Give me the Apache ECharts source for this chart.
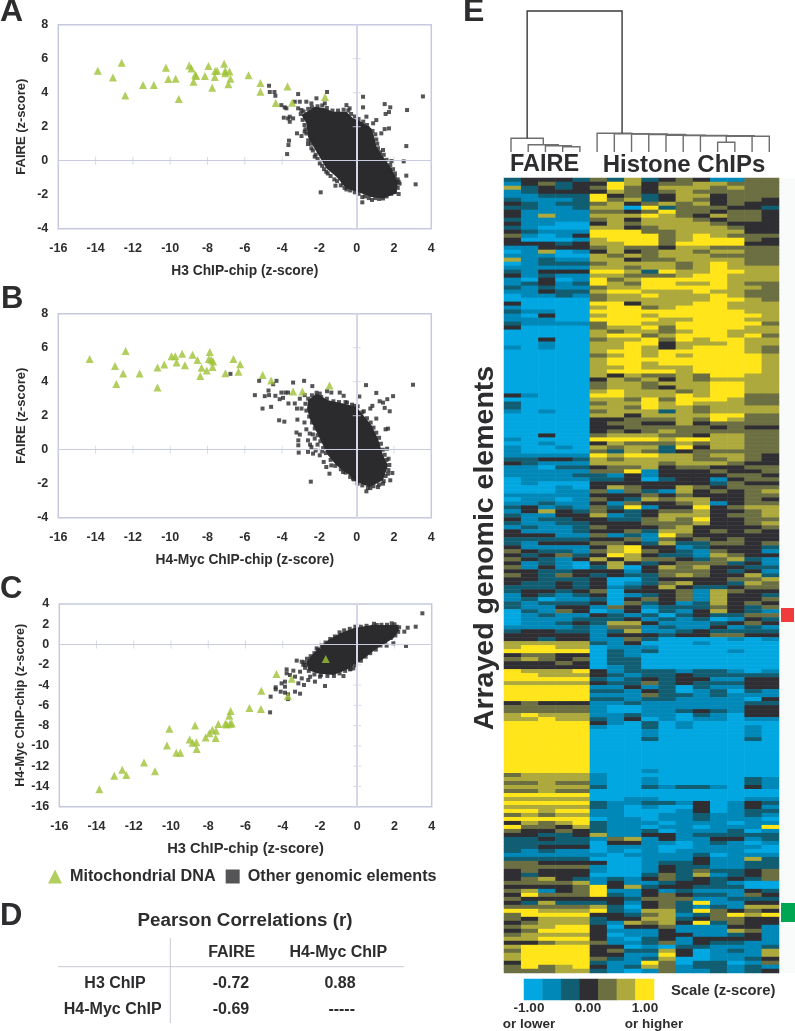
<!DOCTYPE html>
<html><head><meta charset="utf-8">
<style>html,body{margin:0;padding:0;background:#fff}#c{width:795px;height:1031px}</style>
<script src="https://cdn.jsdelivr.net/npm/echarts@6/dist/echarts.min.js"></script>
</head><body><div id="c"></div>
<script>
const mitoA=[[-13.88,5.29],[-13.07,4.9],[-12.6,5.76],[-12.41,3.84],[-11.46,4.45],[-10.88,4.45],[-10.23,5.47],[-10.1,4.8],[-9.71,4.82],[-9.54,3.63],[-8.98,5.6],[-8.86,5.43],[-8.66,5.06],[-8.61,4.98],[-8.75,4.65],[-8.14,4.98],[-7.95,5.57],[-7.75,4.29],[-7.61,4.92],[-7.59,5.27],[-7.48,5.29],[-7.11,5.71],[-7.05,5.27],[-7.05,5.14],[-6.82,5.25],[-6.77,4.82],[-6.88,4.49],[-5.8,5.02],[-5.16,4.57],[-5.16,4.06],[-4.34,3.39],[-3.71,4.37],[-3.46,3.41],[-1.7,3.75]];
const mitoB=[[-14.32,5.33],[-12.96,4.92],[-12.89,3.87],[-12.52,4.48],[-12.39,5.8],[-11.64,4.48],[-10.68,4.84],[-10.68,3.66],[-10.32,5.01],[-9.93,5.5],[-9.73,5.49],[-9.66,5.13],[-9.36,5.64],[-9.21,4.97],[-8.8,5.58],[-8.54,5.27],[-8.39,4.33],[-8.32,4.82],[-8.04,4.66],[-7.93,5.33],[-7.88,5.74],[-7.8,5.29],[-7.7,5.19],[-7.73,4.86],[-7.04,4.5],[-6.61,5.33],[-6.34,4.58],[-6.25,5.03],[-5.04,4.4],[-4.59,4.07],[-3.41,3.42],[-2.91,3.42],[-1.46,3.78]];
const mitoC=[[-13.85,-14.29],[-13.05,-12.94],[-12.62,-12.35],[-12.4,-12.88],[-11.45,-11.63],[-10.86,-12.51],[-10.22,-9.95],[-10.09,-8.3],[-9.72,-10.67],[-9.5,-10.67],[-9,-9.36],[-8.84,-9.68],[-8.71,-8],[-8.64,-9.65],[-8.62,-10.31],[-8.14,-9.16],[-7.94,-8.76],[-7.78,-8.4],[-7.58,-8.5],[-7.6,-9.22],[-7.46,-7.84],[-7.08,-7.81],[-7.01,-7.88],[-6.87,-7.02],[-6.8,-6.56],[-6.83,-7.81],[-6.74,-7.78],[-5.79,-6.26],[-5.17,-6.36],[-5.15,-4.55],[-4.34,-2.91],[-3.72,-5.08],[-3.52,-3.37],[-1.69,-1.43]];
const coreA=[[-2.96,2.69],[-2.25,3.18],[-1.71,3.08],[-1.27,2.88],[-0.55,2.88],[-0.2,2.49],[0.25,2.29],[0.79,1.9],[0.96,1.31],[1.05,0.82],[1.41,0.24],[1.86,-0.45],[2.21,-1.33],[2.13,-1.92],[1.41,-2.22],[0.7,-2.12],[0.25,-1.92],[-0.55,-1.63],[-1.09,-0.94],[-1.63,-0.45],[-2.16,0.53],[-2.61,1.41],[-2.7,2.2]];
const coreB=[[-2.61,2.91],[-2.16,3.3],[-1.54,2.91],[-0.73,2.72],[-0.02,2.52],[0.43,1.93],[0.79,1.44],[1.14,0.65],[1.41,-0.33],[1.68,-0.92],[1.41,-1.8],[0.7,-2.2],[-0.02,-1.9],[-0.38,-1.51],[-1.09,-0.92],[-1.54,-0.33],[-1.89,0.46],[-2.16,1.05],[-2.52,1.83],[-2.66,2.42]];
const coreC=[[-2.75,-1.69],[-2.09,-0.38],[-1.55,0.45],[-0.92,1.11],[-0.21,1.6],[0.78,1.93],[2.12,1.93],[2.25,1.43],[1.94,0.61],[1.05,-0.38],[0.24,-1.53],[-0.39,-2.35],[-1.28,-3.01],[-2.18,-2.84],[-2.63,-2.51]];
const otherA=[[-4.7,4.41],[-4.66,4.04],[-4.41,4.04],[-4.36,3.82],[-4.04,3.27],[-3.86,3.14],[-3.77,3.08],[-3.91,2.53],[-3.68,2.49],[-3.59,2.59],[-3.14,3.92],[-3.32,3.47],[-3.05,3.47],[-2.7,3.47],[-2.43,3.37],[-2.16,3.67],[-3.14,3.08],[-2.96,2.98],[-3.59,2.29],[-3.41,2.49],[-3.2,1.61],[-2.96,1.45],[-2.61,0.98],[-2.43,1.22],[-2.79,1.71],[-3.63,1.18],[-3.66,0.92],[-3.73,0.39],[-1.59,4.04],[-1.71,3.37],[0.34,3.76],[0.34,3.14],[-0.55,3.27],[-0.38,3.08],[0.52,2.59],[0.61,1.9],[1.05,2.39],[0.88,2.2],[1.5,3.33],[1.8,3.14],[1.55,2.75],[1.73,2.86],[1.5,1.86],[1.73,1.9],[1.32,1.61],[2.7,2.98],[3.55,3.78],[2.66,0.86],[2.52,-0.04],[2.66,-0.88],[3.16,-1.39],[2.25,-1.96],[1.86,-0.02],[2.04,-0.94],[2.13,-1.24],[-1.93,-1.86],[-1.14,-1.47],[-0.55,-1.69],[0.3,-2.14],[0.3,-2.45],[0.82,-2.31],[1.41,-2.22],[1.95,-1.73],[-0.73,-1.33],[-1.63,-0.65],[-1.98,-0.16],[-2.25,0.24],[-2.43,0.73],[1.14,0.73],[1.41,0.63],[1.77,-0.55],[2.25,-1.24]];
const edgeA=[[-3.0,2.75],[-2.85,2.9],[-2.75,2.6],[-2.6,3.05],[-2.4,3.15],[-2.1,3.2],[-2.9,2.4],[-2.8,2.1],[-2.75,1.85],[-2.7,1.6],[-2.6,1.2],[-2.45,1.0],[-2.35,0.6],[-2.2,0.35],[-2.1,0.1],[-1.85,-0.3],[-1.75,-0.5],[-1.55,-0.75],[-1.4,-0.9],[-1.2,-1.1],[-1.05,-1.2],[-0.85,-1.45],[-0.65,-1.6],[-0.35,-1.75],[-0.1,-1.85],[0.1,-1.95],[0.45,-2.1],[0.65,-2.2],[1.0,-2.2],[1.2,-2.25],[1.6,-2.1],[1.85,-1.95],[2.05,-1.85],[2.2,-1.6],[2.3,-1.35],[2.2,-1.1],[2.05,-0.75],[1.95,-0.5],[1.8,-0.25],[1.6,0.05],[1.45,0.35],[1.25,0.5],[1.1,1.0],[1.05,1.25],[1.0,1.55],[0.85,1.75],[0.55,2.1],[0.35,2.3],[0.1,2.45],[-0.1,2.6],[-0.3,2.75],[-0.45,2.95],[-0.7,3.0],[-1.0,2.95],[-1.3,2.95],[-1.6,3.1],[-1.85,3.25]];
const otherB=[[-6.77,4.46],[-5.23,4.05],[-5.46,3.21],[-4.73,3.48],[-4.7,3.21],[-4.93,3.15],[-5.05,2.42],[-4.59,2.52],[-4.48,3.85],[-4.3,4.05],[-4.36,3.17],[-4.04,3.36],[-3.82,3.36],[-3.68,3.36],[-4.13,2.97],[-3.95,3.05],[-3.41,3.95],[-2.82,4.05],[-3.66,2.72],[-3.32,2.72],[-3.2,2.42],[-2.38,3.74],[-4.16,1.73],[-3.88,1.65],[-3.18,1.77],[-3.23,1.01],[-3.05,0.89],[-3.13,0.55],[-3.13,0.26],[-3.11,-0.17],[-2.52,0.95],[-2.61,0.55],[-2.25,0.65],[-2.61,-0.13],[-2.34,-0.23],[-1.98,-0.33],[-2.43,0.16],[-2.46,-1.88],[-2.96,2.42],[-3.05,3],[-2.79,3.21],[-1.98,3.3],[-1.59,3.44],[-1.36,3.36],[-0.91,3.36],[-0.7,3.17],[0.14,3.13],[0.5,3.8],[1.05,3.34],[-0.52,2.77],[-0.11,2.58],[0.38,2.26],[0.73,2.42],[0.84,2.58],[1.05,1.83],[1.23,2.85],[1.41,2.77],[1.64,2.97],[1.95,3.15],[1.5,2.46],[1.77,2.26],[1.55,1.2],[1.68,1.24],[3.02,3.82],[1.63,0.06],[1.71,-0.53],[1.91,-1.37],[1.68,-1.41],[1.8,-1.8],[1.41,-2],[1.14,-2.2],[0.73,-2.26],[0.52,-2.45],[-1.46,-1.41],[-1.36,-0.92],[-1.63,-1.02],[-1.77,-0.72],[-0.73,-1.31],[-0.2,-1.7]];
const edgeB=[[-2.75,2.7],[-2.6,3.0],[-2.4,3.2],[-2.15,3.35],[-1.9,3.1],[-1.6,3.0],[-1.25,2.85],[-0.95,2.8],[-0.6,2.8],[-0.25,2.65],[0.05,2.55],[0.3,2.2],[0.55,1.85],[0.75,1.6],[0.9,1.3],[1.05,1.0],[1.2,0.7],[1.3,0.35],[1.4,0.0],[1.5,-0.3],[1.6,-0.6],[1.75,-0.9],[1.7,-1.2],[1.55,-1.55],[1.45,-1.85],[1.2,-2.05],[0.9,-2.15],[0.6,-2.25],[0.3,-2.1],[0.05,-2.0],[-0.15,-1.75],[-0.35,-1.6],[-0.6,-1.35],[-0.85,-1.15],[-1.15,-0.95],[-1.4,-0.6],[-1.65,-0.2],[-1.8,0.1],[-1.95,0.5],[-2.1,0.85],[-2.25,1.25],[-2.4,1.6],[-2.55,1.95],[-2.7,2.3],[-2.8,1.6],[-2.7,1.2],[-2.35,0.9],[-2.5,0.3],[-2.2,-0.05],[-2.1,0.3],[-1.85,-0.1]];
const otherC=[[3.5,3.08],[3.14,1.76],[2.53,1.27],[2.71,1.66],[1.94,0.12],[2.62,-0.14],[1.58,-0.11],[2.12,1.76],[1.85,2.09],[1.05,1.93],[0.87,1.76],[0.51,-0.05],[-0.21,-2.35],[-0.74,-3.11],[-1.73,-4.09],[-2.18,-0.38],[-3.25,-1.59],[-2.98,-1.69],[-2.8,-2.02],[-3.79,-2.45],[-3.43,-2.58],[-3.79,-2.84],[-3.61,-3.01],[-3.88,-3.66],[-4.06,-3.83],[-3.88,-4.16],[-4.38,-4.22],[-4.38,-4.42],[-4.11,-4.65],[-3.88,-4.75],[-4.65,-5.14],[-3.72,-4.91],[-3.72,-5.38],[-4.68,-6.69],[-3.34,-4.65],[-3.07,-4.85],[-2.86,-3.99],[-3.16,-3.83],[-2.98,-3.34],[-3.34,-3.17],[-3.07,-2.68],[-2.63,-3.5],[-2.27,-3.66],[-2.53,-3.17],[-2,-3.17],[-0.39,-2.45],[-0.92,-2.51]];
const edgeC=[[-2.85,-1.75],[-2.7,-1.4],[-2.5,-1.15],[-2.3,-0.85],[-2.1,-0.5],[-1.9,-0.1],[-1.7,0.2],[-1.45,0.55],[-1.2,0.8],[-0.95,1.2],[-0.7,1.4],[-0.4,1.55],[-0.1,1.75],[0.2,1.75],[0.5,1.85],[0.9,2.05],[1.3,1.95],[1.6,1.95],[2.0,2.0],[2.25,1.7],[2.2,1.25],[2.05,0.9],[1.8,0.65],[1.5,0.3],[1.25,-0.1],[1.0,-0.5],[0.7,-0.85],[0.45,-1.2],[0.2,-1.6],[-0.1,-2.05],[-0.35,-2.4],[-0.65,-2.6],[-0.95,-2.85],[-1.25,-3.1],[-1.6,-3.1],[-1.95,-3.0],[-2.3,-2.95],[-2.6,-2.6],[-2.8,-2.3],[-2.9,-2.0]];
const xTicks=[-16,-14,-12,-10,-8,-6,-4,-2,2,4];
const yTicksFaire=[-4,-2,2,4,6,8];
const yTicksMyc=[-16,-14,-12,-10,-8,-6,-4,-2,2,4];

const heatRows=[
"23332 42523 431144","13423 36534 455444","52323 46435 554544","12333 35434 544444","11222 63423 553444","21112 64523 543443","32122 45345 453433","22112 55062 444332","31111 44346 443443","31511 55565 435443",
"21111 45355 543443","31100 35455 554333","21000 55345 555433","32111 66644 555533","41013 66664 565444","30001 56664 566643","33323 55664 666633","11333 45443 554444","01501 35345 545544","11100 54545 554444",
"51211 55344 555544","01222 45555 456544","11111 55455 456555","21333 66526 556655","31211 55444 566555","10301 64566 666555","12312 65466 556544","21211 45566 666554","11322 56655 565544","01121 45565 556544",
"00000 45555 556654","30000 66355 566555","10000 56645 666555","21100 66666 666655","10300 56656 666665","11100 66665 566655","21111 46655 666664","30000 45564 666655","00000 54554 566555","00000 56645 666564",
"00300 45564 656655","00100 55663 555655","10100 55653 566654","00000 56656 666654","00000 45656 566665","00000 56666 666665","00000 56656 666665","00000 55655 566665","00000 56666 566665","00000 53544 546655",
"00000 35453 545555","00000 45545 556655","00000 45543 556655","00000 56555 456655","31000 66555 656644","00000 55464 666544","20000 45565 655544","20000 55465 545555","10100 45552 545555","00000 55355 556644",
"00000 33444 546544","00000 34433 534444","00000 33444 443433","00000 34345 444444","00300 45554 435544","10000 66665 665544","00100 35444 545544","10010 54552 635544","10000 42542 344444","11111 65665 545543",
"22332 54555 544543","32111 55554 555433","11022 34453 443344","11111 44613 334334","11112 21313 333443","01111 22302 331344","01000 33333 332433","00010 35433 543444","00011 41421 534345","11111 33343 433344",
"01101 43254 553343","11211 31433 451344","23121 42613 363455","13532 43234 453345","21133 51235 553445","31223 32245 463344","21122 33344 453345","12112 43334 533334","31112 33425 534343","33311 41216 433333",
"22222 33414 343433","21333 44325 224434","31111 35633 123332","43221 45643 214331","32342 36532 215433","43213 53544 324521","31210 35323 444231","41310 25035 453322","33223 33134 443231","43243 23224 543352",
"33222 30023 333445","32232 30124 533254","22232 31235 322344","23323 40333 415433","13212 30123 415332","12011 20343 415334","21222 30423 125343","21133 14312 224324","02143 01302 135321","01211 32120 232244",
"01112 22312 120132","01123 25531 112343","11112 14412 113121","23322 12511 232222","33333 13332 334433","33233 11420 000101","55555 21300 010000","56655 01110 000000","66666 02120 000100","34433 02100 000000",
"45434 02200 000000","33343 02200 000000","33333 01200 000000","65556 31222 122101","66555 32122 322222","66666 21232 331133","55555 32242 322233","66666 11312 021133","66666 22132 012021","66666 11142 212111",
"66666 22122 111103","34333 11211 111122","44444 10011 111133","44444 10011 232133","56555 11211 021033","55655 21301 011011","66666 31020 100000","66666 10020 100010","66666 00010 000010","66666 00010 000010",
"66666 00020 000020","66666 00000 000000","66666 00000 000000","66666 00000 000000","66666 00000 000000","66666 00000 000000","66666 00000 000000","66666 00000 000000","66666 00010 000000","45555 10000 000000",
"55555 10010 000021","44544 10010 000021","55555 20021 221031","44544 00000 000000","66666 00000 000000","55555 00110 000011","66666 21122 130132","55555 21010 030131","66566 11000 130122","45455 11001 121121",
"66666 01101 121110","35456 21110 111011","64435 21101 101116","43343 21120 111201","33223 51133 122222","22322 14513 113312","22222 03311 012101","22333 01110 011110","21211 01010 111100","11111 10111 120111",
"22222 00011 131152","44333 30012 231122","44444 10013 221122","34333 10013 242234","32333 00024 251234","34532 12134 232324","44445 13112 332100","33334 63523 322200","45134 61131 211132","36444 62134 322143",
"43333 33244 411222","32522 23134 261133","44444 52034 212155","66555 62155 264343","46666 33245 124656","43555 23355 234433","34555 21545 362433","45566 30334 111331","34666 31113 111541","45555 30113 311231",
"55666 31023 133331","33455 41124 132211","56666 33010 221112","46666 34225 301215","56666 33116 301115","56666 42125 001123","36666 21164 022014","46456 31254 122121","44455 21014 112123"];
const heatColors=['#00a7e1','#0088b8','#115e73','#2e2e33','#6b6f42','#ada93d','#ffe51a'];
const scaleLevels=[0,1,2,3,4,5,6];
const dendroMerges=[[3,4,5.3],[2,16,6.3],[1,17,7.3],[0,18,13.7],[12,13,9.7],[20,14,15.7],[21,15,15.8],[11,22,16.2],[10,23,16.5],[9,24,16.8],[8,25,17.5],[7,26,18],[6,27,18.3],[5,28,18.7,6.45],[19,29,141]];
const tableCols=['FAIRE','H4-Myc ChIP'];
const tableRows=[['H3 ChIP','-0.72','0.88'],['H4-Myc ChIP','-0.69','-----']];

const FONT='"Liberation Sans",Arial,sans-serif', INK='#2d2d2f', RULE='#c6c8df', BLACK='#2b2b2e', GREEN='#9fc236';
const grids=[],xAxes=[],yAxes=[],series=[];
function panel(l,t,w,h,ymin,ymax,xName,yName,xSize,ySize,yTicks,core,other,mito){
  const i=grids.length;
  grids.push({left:l,top:t,width:w,height:h,show:true,borderColor:RULE,borderWidth:1.5,backgroundColor:'#fff'});
  xAxes.push({gridIndex:i,type:'value',min:-16,max:4,interval:2,name:xName,nameLocation:'middle',nameGap:35,
    nameTextStyle:{fontFamily:FONT,fontWeight:'bold',fontSize:xSize,color:INK},
    axisLine:{show:false},axisTick:{show:false},splitLine:{show:false},
    axisLabel:{fontFamily:FONT,fontWeight:'bold',fontSize:12.5,color:INK,margin:13}});
  yAxes.push({gridIndex:i,type:'value',min:ymin,max:ymax,interval:2,name:yName,nameLocation:'middle',nameGap:30,
    nameTextStyle:{fontFamily:FONT,fontWeight:'bold',fontSize:ySize,color:INK},
    axisLine:{show:false},axisTick:{show:false},splitLine:{show:false},
    axisLabel:{fontFamily:FONT,fontWeight:'bold',fontSize:12.5,color:INK,margin:10}});
  const base={xAxisIndex:i,yAxisIndex:i,silent:true,animation:false};
  series.push({...base,type:'scatter',symbol:'rect',symbolSize:[1,8],itemStyle:{color:'#cfd1e4'},
    data:xTicks.map(v=>[v,0]),
    markLine:{silent:true,symbol:'none',label:{show:false},animation:false,data:[{yAxis:0,lineStyle:{color:'#c9cbe0',width:1,type:'solid'}},{xAxis:0,lineStyle:{color:'#d5d7e8',width:2,type:'solid'}}]}});
  series.push({...base,type:'scatter',symbol:'rect',symbolSize:[8,1],itemStyle:{color:'#cfd1e4'},data:yTicks.map(v=>[0,v])});
  series.push({...base,type:'custom',data:[core[0]],renderItem:(p,api)=>({type:'polygon',shape:{points:core.map(c=>api.coord(c))},style:{fill:BLACK}})});
  series.push({...base,type:'scatter',name:'Other genomic elements',symbol:'rect',symbolSize:4,itemStyle:{color:BLACK},data:other});
  series.push({...base,type:'scatter',name:'Mitochondrial DNA',symbol:'triangle',symbolSize:8,itemStyle:{color:GREEN},data:mito});
}
panel(58.3,24.7,373,204,-4,8,'H3 ChIP-chip (z-score)','FAIRE (z-score)',13.8,13,yTicksFaire,coreA,otherA.concat(edgeA),mitoA);
panel(58.3,313.7,373,204,-4,8,'H4-Myc ChIP-chip (z-score)','FAIRE (z-score)',13.8,13,yTicksFaire,coreB,otherB.concat(edgeB),mitoB);
panel(59.3,604,372.4,202.7,-16,4,'H3 ChIP-chip (z-score)','H4-Myc ChIP-chip (z-score)',14.7,12.6,yTicksMyc,coreC,otherC.concat(edgeC),mitoC);

/* dendrogram */
const nodeX=Array.from({length:16},(_,i)=>i), nodeH=new Array(16).fill(0), dendroSegs=[];
dendroMerges.forEach(m=>{
  const xa=nodeX[m[0]],xb=nodeX[m[1]];
  dendroSegs.push([xa,nodeH[m[0]],xb,nodeH[m[1]],m[2]]);
  nodeX.push(m[3]!==undefined?m[3]:(xa+xb)/2); nodeH.push(m[2]);
});
const dG=grids.length;
grids.push({left:511,top:11,width:258.3,height:141});
xAxes.push({gridIndex:dG,type:'value',min:0,max:15,show:false});
yAxes.push({gridIndex:dG,type:'value',min:0,max:141,show:false});
series.push({type:'custom',xAxisIndex:dG,yAxisIndex:dG,silent:true,animation:false,clip:false,data:dendroSegs,
  renderItem:(p,api)=>{
    const s=dendroSegs[p.dataIndex],root=p.dataIndex===dendroSegs.length-1;
    return {type:'polyline',shape:{points:[api.coord([s[0],s[1]]),api.coord([s[0],s[4]]),api.coord([s[2],s[4]]),api.coord([s[2],s[3]])]},
      style:{fill:null,stroke:root?'#3a3a3a':'#6e6e6e',lineWidth:1.4}};
  }});

/* heatmap */
const hG=grids.length;
const heatData=[];
heatRows.forEach((r,y)=>{const s=r.replace(/ /g,'');for(let x=0;x<s.length;x++)heatData.push([x,y,+s[x]]);});
grids.push({left:504,top:178,width:275,height:795});
xAxes.push({gridIndex:hG,type:'category',show:false,data:Array.from({length:16},(_,i)=>i)});
yAxes.push({gridIndex:hG,type:'category',show:false,inverse:true,data:heatRows.map((_,i)=>i)});
const hS=series.length;
series.push({type:'heatmap',xAxisIndex:hG,yAxisIndex:hG,silent:true,animation:false,progressive:0,data:heatData});
/* scale bar */
const sG=grids.length;
grids.push({left:524,top:979,width:130,height:21});
xAxes.push({gridIndex:sG,type:'category',show:false,data:scaleLevels});
yAxes.push({gridIndex:sG,type:'category',show:false,data:['s']});
series.push({type:'heatmap',xAxisIndex:sG,yAxisIndex:sG,silent:true,animation:false,data:scaleLevels.map((v,i)=>[i,0,v])});

function t(text,x,y,size,align,extra){return Object.assign({type:'text',silent:true,x:x,y:y,style:{text:text,fontFamily:FONT,fontWeight:'bold',fontSize:size,fill:INK,align:align||'center',verticalAlign:'middle'}},extra||{});}
const g=[
 {type:'rect',silent:true,shape:{x:779,y:178,width:16,height:795},style:{fill:'#f9fafa'}},
 {type:'rect',silent:true,shape:{x:781,y:608,width:13,height:14},style:{fill:'#ef3b3b'}},
 {type:'rect',silent:true,shape:{x:781,y:903,width:14,height:19},style:{fill:'#00a651'}},
 t('A',0,12,32,'left'),t('B',1,299,31,'left'),t('C',0,589,31,'left'),t('D',0,916,31,'left'),t('E',463,12,32,'left'),
 t('FAIRE',544.5,165,23.5),t('Histone ChIPs',684,165,24),
 t('Arrayed genomic elements',485,548,28.5,'center',{rotation:Math.PI/2}),
 t('-1.00',529,1008,13.5),t('0.00',588,1008,13.5),t('1.00',645,1008,13.5),t('or lower',529,1024,13.5),t('or higher',654,1024,13.5),
 t('Scale (z-score)',671,991,14.8,'left'),
 t('Pearson Correlations (r)',245,921,18.8),
 {type:'line',silent:true,shape:{x1:58,y1:966.7,x2:404,y2:966.7},style:{stroke:'#c8c8d2',lineWidth:1}},
 {type:'line',silent:true,shape:{x1:170.3,y1:938,x2:170.3,y2:1023},style:{stroke:'#c8c8d2',lineWidth:1}},
 t(tableCols[0],231.7,952.7,16),t(tableCols[1],338.3,952.7,16),
 t(tableRows[0][0],115,983.7,16),t(tableRows[0][1],231,983.7,16),t(tableRows[0][2],340,983.7,16),
 t(tableRows[1][0],112.7,1009.3,16),t(tableRows[1][1],231,1009.3,16),t(tableRows[1][2],341.7,1009.3,16)
];
const chart=echarts.init(document.getElementById('c'),null,{renderer:'canvas'});
chart.setOption({animation:false,backgroundColor:'#fff',grid:grids,xAxis:xAxes,yAxis:yAxes,series:series,graphic:{elements:g},
  legend:{left:43,top:863.5,itemWidth:14,itemHeight:14,itemGap:10,selectedMode:false,
    textStyle:{fontFamily:FONT,fontWeight:'bold',fontSize:16.2,color:INK,padding:[0,0,0,3]},
    data:[{name:'Mitochondrial DNA',icon:'triangle'},{name:'Other genomic elements',icon:'rect'}]},
  visualMap:{type:'piecewise',show:false,dimension:2,seriesIndex:[hS,hS+1],pieces:heatColors.map((c,i)=>({value:i,color:c}))}
});
</script></body></html>
